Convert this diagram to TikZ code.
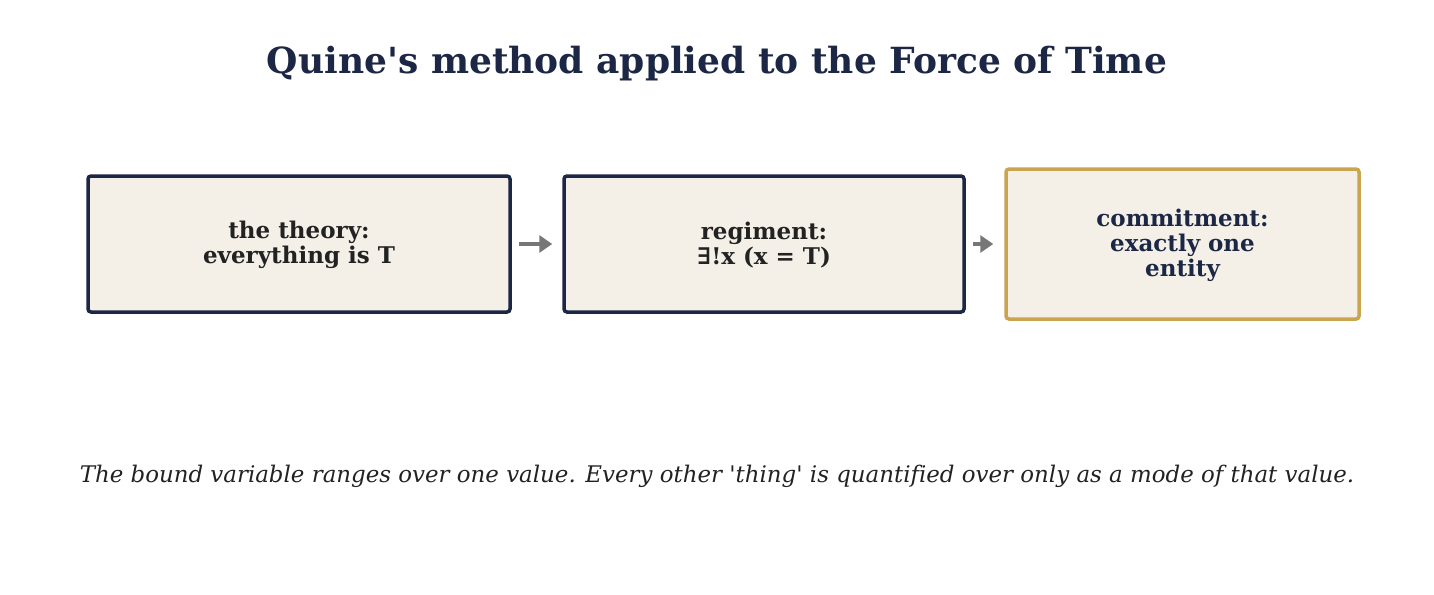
\documentclass[tikz,border=0pt]{standalone}
\usepackage{fontspec}
\setmainfont{DejaVu Serif}[Ligatures={NoCommon}]
\usetikzlibrary{arrows.meta}
\definecolor{navy}{HTML}{1B2744}
\definecolor{gold}{HTML}{C9A54E}
\definecolor{cream}{HTML}{F4F0E8}
\definecolor{ink}{HTML}{222222}
\definecolor{arrowgray}{HTML}{777777}
\tikzset{
  box/.style={draw=navy, fill=cream, line width=3.5pt, rounded corners=3pt, inner sep=0pt},
  goldbox/.style={box, draw=gold},
  boxtext/.style={font=\fontsize{23}{25}\selectfont\bfseries, align=center},
  conn/.style={draw=arrowgray, line width=4pt, -{Triangle[length=13pt,width=17pt]}},
}
\begin{document}
\begin{tikzpicture}[x=1pt,y=-1pt]
\useasboundingbox (0,0) rectangle (1434,594);
\node[font=\fontsize{36}{42}\selectfont\bfseries, text=navy] (title) at (717,64) {Quine\textquotesingle s method applied to the Force of Time};
\node[box, minimum width=422pt, minimum height=136pt] (b1) at (299,244) {};
\node[boxtext, text=ink] (t1) at ([yshift=-1pt]b1.center) {the theory:\\everything is T};
\node[box, minimum width=400pt, minimum height=136pt] (b2) at (764,244) {};
\node[boxtext, text=ink] (t2) at ([yshift=-1pt]b2.center) {regiment:\\∃!x (x = T)};
\node[goldbox, minimum width=353pt, minimum height=150pt] (b3) at (1182.5,244) {};
\node[boxtext, text=navy] (t3) at ([yshift=-1pt]b3.center) {commitment:\\exactly one\\entity};
\draw[conn] ([xshift=7pt]b1.east) -- ([xshift=-10pt]b2.west);
\draw[conn] ([xshift=7pt]b2.east) -- ([xshift=-11pt]b3.west);
\node[font=\fontsize{22.9}{27}\selectfont\itshape, text=ink] (cap) at (717,476) {The bound variable ranges over one value. Every other \textquotesingle thing\textquotesingle\ is quantified over only as a mode of that value.};
\end{tikzpicture}
\end{document}
